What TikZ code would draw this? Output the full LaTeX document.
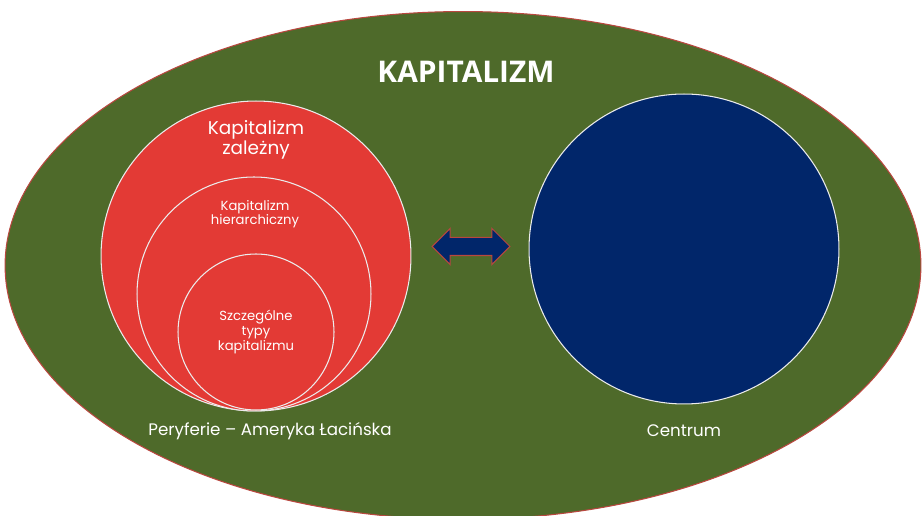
\documentclass[tikz,border=0pt]{standalone}
\usepackage{fontspec}
\setmainfont{Poppins}
\newfontfamily\titlefont{Open Sans}
\usetikzlibrary{shapes.geometric,shapes.arrows}
\definecolor{kapgreen}{HTML}{4E6A2A}
\definecolor{kapred}{HTML}{E33A35}
\definecolor{kapblue}{HTML}{01266A}
\definecolor{kapedge}{HTML}{B9473F}
\tikzset{
  ring/.style={circle,draw=white!85!gray,line width=0.6pt,inner sep=0pt},
  lbl/.style 2 args={text=white,align=center,font=\fontsize{#1}{#2}\selectfont},
}
\begin{document}
\begin{tikzpicture}[x=0.02cm,y=-0.02cm]
        \useasboundingbox (0,0) rectangle (924,516);
        % tlo
        \node[ellipse,fill=kapgreen,draw=kapedge,line width=0.6pt,minimum width=18.32cm,minimum height=10.16cm] (kap) at (463,265.5) {};
        \node[text=white,font=\titlefont\bfseries\fontsize{17}{17}\selectfont] (title) at (466,72) {KAPITALIZM};
        % peryferie
        \node[ring,fill=kapred,minimum size=6.2cm] (zal) at (256,256) {};
        \node[ring,fill=kapred,minimum size=4.68cm] (hier) at (254,294) {};
        \node[ring,fill=kapred,minimum size=3.12cm] (szcz) at (256,332) {};
        \node[lbl={10.5}{11.3}] (zaltxt) at (256,140) {Kapitalizm\\zależny};
        \node[lbl={7.5}{8}] (hiertxt) at (255,214) {Kapitalizm\\hierarchiczny};
        \node[lbl={7.5}{8.5}] (szcztxt) at (256,332) {Szczególne\\typy\\kapitalizmu};
        \node[lbl={9.5}{11}] (pertxt) at (270,431) {Peryferie -- Ameryka Łacińska};
        % centrum
        \node[ring,fill=kapblue,minimum size=6.2cm] (cen) at (684,249) {};
        \node[lbl={9.5}{11}] (centxt) at (684,431) {Centrum};
        % strzalka
        \node[double arrow,fill=kapblue,draw=kapedge,line width=0.6pt,inner xsep=0pt,inner ysep=0.17cm,minimum height=1.56cm,double arrow head extend=0.18cm] (arr) at (471,246.5) {};
    \end{tikzpicture}
\end{document}
